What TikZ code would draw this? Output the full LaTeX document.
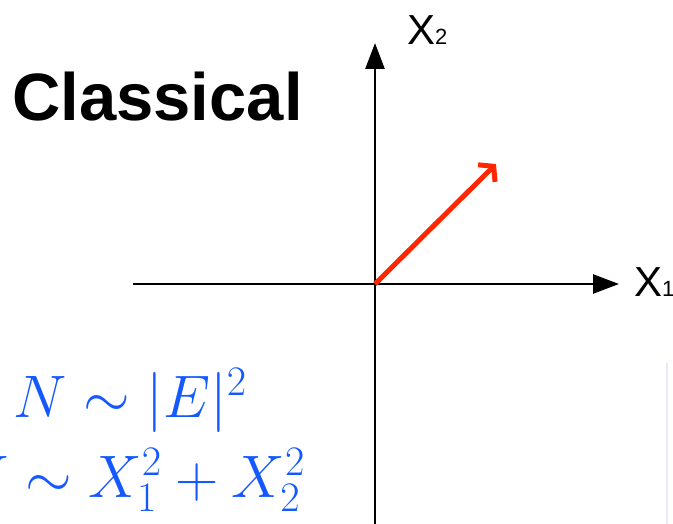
\documentclass[tikz,border=0pt]{standalone}
\usepackage{fix-cm}
\usepackage{fontspec}
\setsansfont{Liberation Sans}
\usetikzlibrary{arrows.meta, positioning}
\definecolor{eqblue}{RGB}{20,88,255}
\definecolor{vecred}{RGB}{255,38,0}
\definecolor{faintlilac}{RGB}{238,230,255}

\begin{document}
\begin{tikzpicture}[
    x=1pt, y=-1pt,
    axis/.style={line width=2.6pt, -{Triangle[length=26pt, width=19pt]}},
    vector/.style={line width=5pt, vecred, -{Straight Barb[length=10pt, width=24pt]}},
    axlabel/.style={font=\sffamily\fontsize{42}{50}\selectfont, inner sep=0pt},
    eqtext/.style={text=eqblue, font=\fontsize{60}{72}\selectfont, inner sep=0pt}
]
    \useasboundingbox (0,0) rectangle (673,524);

    % axis end points
    \coordinate (o) at (375,284);
    \coordinate (xl) at (133,284);
    \coordinate (xr) at (619,284);
    \coordinate (yb) at (375,530);
    \coordinate (yt) at (375,43);
    \coordinate (v) at (496,164);

    % axes and vector
    \draw[axis] (xl) -- (xr);
    \draw[axis] (yb) -- (yt);
    \draw[vector] (o) -- (v);

    % axis labels
    \node[axlabel, anchor=base west] (lx1) at (634,297) {X{\fontsize{22}{26}\selectfont 1}};
    \node[axlabel, anchor=base west] (lx2) at (407,45) {X{\fontsize{22}{26}\selectfont 2}};

    % title
    \node[font=\sffamily\bfseries\fontsize{67}{80}\selectfont, inner sep=0pt, anchor=base west] (title) at (12,121) {Classical};

    % equations
    \node[eqtext, anchor=base] (eq1) at (130,417) {$N\sim|E|^2$};
    \node[eqtext, anchor=base] (eq2) at (130,497) {$N\sim X_1^2+X_2^2$};

    % faint edge at right
    \draw[faintlilac, line width=1.5pt] (667,363) -- (667,524);
\end{tikzpicture}
\end{document}
